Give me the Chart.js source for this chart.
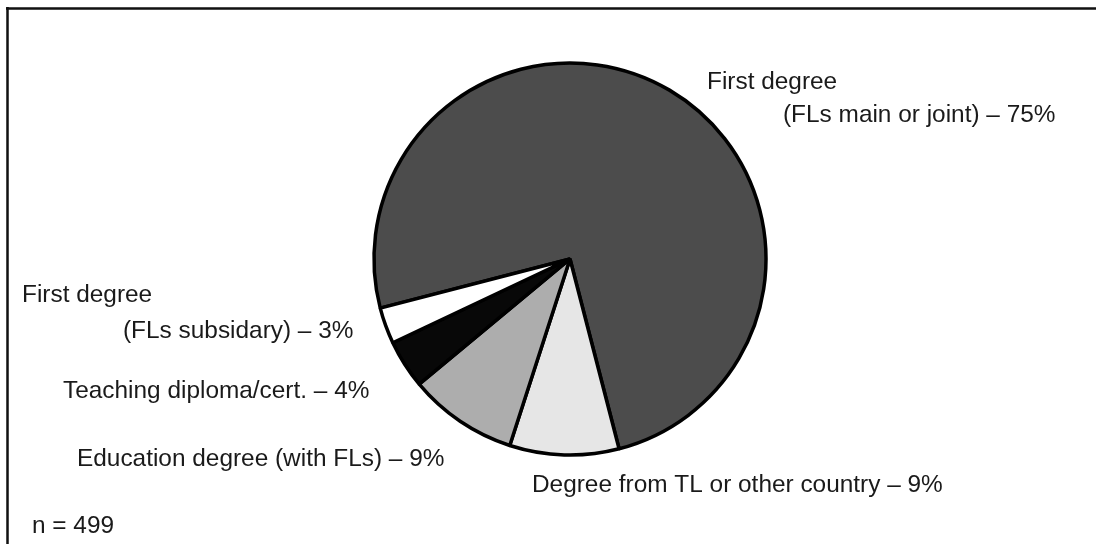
<!DOCTYPE html>
<html>
<head>
<meta charset="utf-8">
<script src="https://cdn.jsdelivr.net/npm/chart.js@4.4.1/dist/chart.umd.min.js"></script>
<style>
  html, body { margin: 0; padding: 0; background: #ffffff; }
  #wrap { position: relative; width: 1096px; height: 544px; overflow: hidden; }
  canvas { display: block; }
</style>
</head>
<body>
<div id="wrap"><canvas id="c" width="1096" height="544"></canvas></div>
<script>
// ---- data ----
const categories = [
  "First degree (FLs main or joint)",
  "Degree from TL or other country",
  "Education degree (with FLs)",
  "Teaching diploma/cert.",
  "First degree (FLs subsidary)"
];
const percentages = [75, 9, 9, 4, 3];
const labelLines = [
  ["First degree", "(FLs main or joint) \u2013 75%"],
  ["Degree from TL or other country \u2013 9%"],
  ["Education degree (with FLs) \u2013 9%"],
  ["Teaching diploma/cert. \u2013 4%"],
  ["First degree", "(FLs subsidary) \u2013 3%"]
];
const sampleNote = "n = 499";

// ---- styling / layout (not data) ----
const sliceColors = ["#4c4c4c", "#e6e6e6", "#adadad", "#080808", "#ffffff"];
const labelPos = [
  [[707, 89], [783, 122]],
  [[532, 492]],
  [[77, 466]],
  [[63, 398]],
  [[22, 302], [123, 338]]
];
const notePos = [32, 533];
const FONT = '24.4px "Liberation Sans", Arial, Helvetica, sans-serif';

const framePlugin = {
  id: 'frame',
  afterDraw(chart) {
    const ctx = chart.ctx;
    ctx.save();
    ctx.strokeStyle = '#111';
    ctx.lineWidth = 2.5;
    ctx.beginPath();
    ctx.moveTo(6, 8.5);
    ctx.lineTo(1096, 8.5);
    ctx.moveTo(7.5, 7);
    ctx.lineTo(7.5, 544);
    ctx.stroke();

    ctx.fillStyle = '#1a1a1a';
    ctx.font = FONT;
    ctx.textBaseline = 'alphabetic';
    ctx.textAlign = 'left';
    labelLines.forEach((lines, i) => {
      lines.forEach((t, j) => {
        const p = labelPos[i][j];
        ctx.fillText(t, p[0], p[1]);
      });
    });
    ctx.fillText(sampleNote, notePos[0], notePos[1]);
    ctx.restore();
  }
};

new Chart(document.getElementById('c'), {
  type: 'pie',
  data: {
    labels: categories,
    datasets: [{
      data: percentages,
      backgroundColor: sliceColors,
      borderColor: '#000',
      borderWidth: 3.5,
      borderJoinStyle: 'bevel'
    }]
  },
  options: {
    responsive: false,
    animation: false,
    rotation: -104.5,
    radius: 196,
    layout: { padding: { left: 44, right: 0, top: 0, bottom: 26 } },
    plugins: {
      legend: { display: false },
      tooltip: { enabled: false },
      title: { display: false }
    }
  },
  plugins: [framePlugin]
});
</script>
</body>
</html>
